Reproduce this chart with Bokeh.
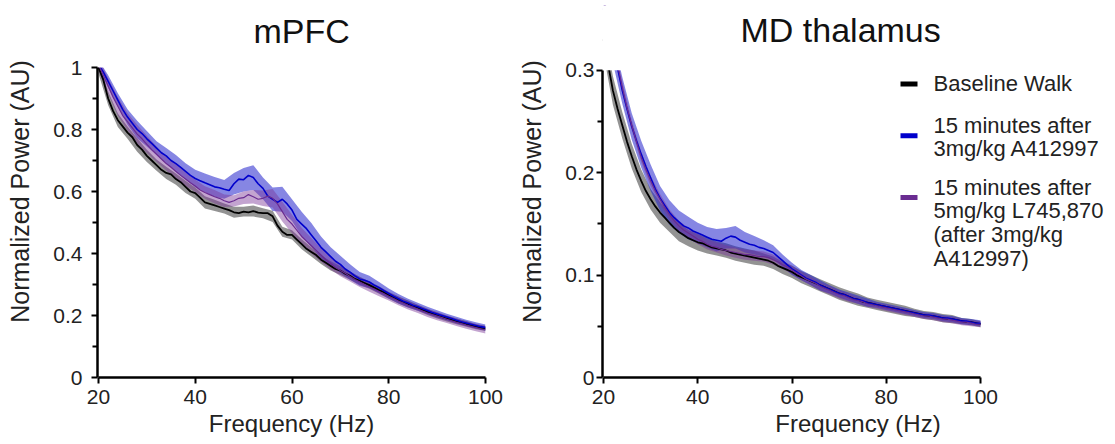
from bokeh.plotting import figure
from bokeh.layouts import row
from bokeh.models import FixedTicker, CustomJSTickFormatter, Label
from bokeh.embed import file_html
from bokeh.resources import INLINE

# ---------------- data ----------------
freq = list(range(20, 101))          # 1 Hz steps
freq2 = list(range(20, 101, 2))      # 2 Hz steps for error bands

series_names = ["Baseline Walk", "15 minutes after 3mg/kg A412997",
                "15 minutes after 5mg/kg L745,870 (after 3mg/kg A412997)"]

mpfc_base = [1.00, 0.96, 0.90, 0.86, 0.83, 0.81, 0.79, 0.775, 0.75, 0.735,
             0.715, 0.70, 0.685, 0.67, 0.66, 0.655, 0.64, 0.63, 0.615, 0.60,
             0.595, 0.58, 0.565, 0.56, 0.555, 0.55, 0.545, 0.54, 0.533, 0.53,
             0.535, 0.533, 0.537, 0.532, 0.53, 0.53, 0.52, 0.49, 0.47, 0.46,
             0.46, 0.445, 0.43, 0.415, 0.405, 0.395, 0.38, 0.37, 0.36, 0.35,
             0.345, 0.335, 0.328, 0.318, 0.312, 0.305, 0.298, 0.29, 0.282, 0.275,
             0.265, 0.258, 0.25, 0.243, 0.237, 0.23, 0.225, 0.218, 0.212, 0.207,
             0.20, 0.195, 0.19, 0.186, 0.181, 0.177, 0.173, 0.168, 0.164, 0.161,
             0.158]
mpfc_a412997 = [1.01, 0.985, 0.955, 0.925, 0.895, 0.865, 0.84, 0.82, 0.80, 0.787,
                0.77, 0.755, 0.74, 0.725, 0.715, 0.70, 0.69, 0.678, 0.665, 0.652,
                0.642, 0.635, 0.628, 0.622, 0.615, 0.612, 0.607, 0.603, 0.625, 0.64,
                0.638, 0.652, 0.645, 0.625, 0.61, 0.585, 0.575, 0.565, 0.575, 0.56,
                0.54, 0.51, 0.495, 0.48, 0.46, 0.44, 0.42, 0.405, 0.39, 0.375,
                0.365, 0.35, 0.34, 0.328, 0.318, 0.314, 0.308, 0.298, 0.29, 0.28,
                0.271, 0.262, 0.254, 0.246, 0.24, 0.233, 0.228, 0.222, 0.216, 0.21,
                0.205, 0.20, 0.195, 0.19, 0.185, 0.18, 0.176, 0.172, 0.168, 0.164,
                0.161]
mpfc_l745870 = [1.01, 0.975, 0.94, 0.905, 0.875, 0.845, 0.825, 0.805, 0.785, 0.77,
                0.752, 0.735, 0.72, 0.705, 0.69, 0.678, 0.665, 0.652, 0.64, 0.628,
                0.618, 0.605, 0.597, 0.59, 0.583, 0.578, 0.57, 0.565, 0.57, 0.578,
                0.58, 0.59, 0.583, 0.575, 0.578, 0.585, 0.578, 0.56, 0.535, 0.51,
                0.495, 0.475, 0.455, 0.44, 0.425, 0.41, 0.395, 0.38, 0.368, 0.355,
                0.345, 0.336, 0.326, 0.316, 0.308, 0.30, 0.292, 0.285, 0.277, 0.27,
                0.262, 0.255, 0.247, 0.24, 0.233, 0.227, 0.221, 0.214, 0.208, 0.203,
                0.198, 0.193, 0.188, 0.183, 0.178, 0.174, 0.169, 0.165, 0.161, 0.157,
                0.154]

mpfc_base_sem = [0.02, 0.022, 0.022, 0.02, 0.022, 0.02, 0.018, 0.02, 0.018, 0.02,
                 0.018, 0.02, 0.018, 0.016, 0.018, 0.016, 0.018, 0.016, 0.018, 0.016,
                 0.015, 0.016, 0.015, 0.014, 0.015, 0.014, 0.013, 0.013, 0.012, 0.012,
                 0.011, 0.011, 0.011, 0.01, 0.01, 0.01, 0.009, 0.009, 0.009, 0.008,
                 0.008]
mpfc_a412997_sem = [0.015, 0.02, 0.022, 0.025, 0.028, 0.025, 0.022, 0.025, 0.028, 0.026,
                    0.028, 0.03, 0.032, 0.03, 0.035, 0.038, 0.04, 0.035, 0.038, 0.04,
                    0.035, 0.04, 0.038, 0.035, 0.03, 0.028, 0.025, 0.022, 0.02, 0.018,
                    0.016, 0.015, 0.014, 0.013, 0.012, 0.012, 0.011, 0.011, 0.01, 0.01,
                    0.01]
mpfc_l745870_sem = [0.02, 0.025, 0.03, 0.028, 0.03, 0.028, 0.025, 0.022, 0.025, 0.022,
                    0.02, 0.02, 0.022, 0.02, 0.018, 0.02, 0.022, 0.025, 0.03, 0.032,
                    0.03, 0.028, 0.025, 0.022, 0.02, 0.018, 0.016, 0.016, 0.015, 0.015,
                    0.014, 0.014, 0.014, 0.013, 0.013, 0.013, 0.012, 0.012, 0.012, 0.012,
                    0.012]

md_base = [0.33, 0.305, 0.28, 0.262, 0.246, 0.23, 0.216, 0.203, 0.192, 0.182,
           0.174, 0.167, 0.161, 0.156, 0.151, 0.146, 0.142, 0.139, 0.136, 0.134,
           0.132, 0.131, 0.129, 0.127, 0.126, 0.125, 0.124, 0.122, 0.121, 0.12,
           0.119, 0.118, 0.117, 0.116, 0.115, 0.114, 0.112, 0.109, 0.107, 0.105,
           0.103, 0.10, 0.098, 0.096, 0.094, 0.092, 0.09, 0.088, 0.086, 0.084,
           0.082, 0.081, 0.079, 0.077, 0.076, 0.074, 0.073, 0.072, 0.071, 0.07,
           0.069, 0.068, 0.067, 0.066, 0.065, 0.064, 0.063, 0.062, 0.061, 0.06,
           0.06, 0.059, 0.058, 0.057, 0.057, 0.056, 0.055, 0.054, 0.054, 0.053,
           0.052]
md_a412997 = [0.36, 0.34, 0.32, 0.302, 0.28, 0.262, 0.245, 0.231, 0.218, 0.206,
              0.195, 0.184, 0.175, 0.168, 0.161, 0.156, 0.152, 0.148, 0.146, 0.143,
              0.141, 0.139, 0.137, 0.135, 0.134, 0.133, 0.136, 0.138, 0.137, 0.134,
              0.132, 0.13, 0.129, 0.127, 0.126, 0.124, 0.122, 0.118, 0.114, 0.11,
              0.106, 0.103, 0.10, 0.097, 0.095, 0.093, 0.09, 0.088, 0.086, 0.084,
              0.082, 0.081, 0.079, 0.077, 0.076, 0.075, 0.073, 0.072, 0.071, 0.07,
              0.069, 0.068, 0.067, 0.066, 0.065, 0.064, 0.063, 0.062, 0.061, 0.061,
              0.06, 0.059, 0.058, 0.058, 0.057, 0.056, 0.055, 0.055, 0.054, 0.053,
              0.053]
md_l745870 = [0.37, 0.345, 0.325, 0.305, 0.283, 0.263, 0.246, 0.23, 0.215, 0.203,
              0.192, 0.182, 0.174, 0.166, 0.159, 0.153, 0.148, 0.144, 0.141, 0.138,
              0.135, 0.133, 0.13, 0.128, 0.127, 0.125, 0.124, 0.123, 0.122, 0.121,
              0.12, 0.12, 0.119, 0.118, 0.118, 0.117, 0.115, 0.113, 0.11, 0.108,
              0.105, 0.102, 0.099, 0.096, 0.094, 0.092, 0.089, 0.087, 0.085, 0.083,
              0.081, 0.08, 0.078, 0.076, 0.075, 0.074, 0.072, 0.071, 0.07, 0.069,
              0.068, 0.067, 0.066, 0.065, 0.064, 0.063, 0.062, 0.061, 0.06, 0.06,
              0.059, 0.058, 0.057, 0.057, 0.056, 0.055, 0.054, 0.054, 0.053, 0.052,
              0.052]

md_base_sem = [0.014, 0.014, 0.013, 0.012, 0.011, 0.01, 0.01, 0.009, 0.009, 0.008,
               0.008, 0.008, 0.007, 0.007, 0.007, 0.007, 0.007, 0.006, 0.006, 0.006,
               0.006, 0.006, 0.006, 0.006, 0.006, 0.006, 0.006, 0.006, 0.005, 0.005,
               0.005, 0.005, 0.005, 0.004, 0.004, 0.004, 0.004, 0.004, 0.003, 0.003,
               0.003]
md_a412997_sem = [0.013, 0.013, 0.013, 0.013, 0.013, 0.013, 0.012, 0.012, 0.011, 0.011,
                  0.01, 0.01, 0.011, 0.01, 0.011, 0.01, 0.009, 0.008, 0.007, 0.006,
                  0.006, 0.005, 0.005, 0.005, 0.004, 0.004, 0.004, 0.004, 0.004, 0.003,
                  0.003, 0.003, 0.003, 0.003, 0.003, 0.003, 0.003, 0.003, 0.003, 0.003,
                  0.003]
md_l745870_sem = [0.006, 0.006, 0.006, 0.005, 0.005, 0.005, 0.005, 0.005, 0.005, 0.005,
                  0.005, 0.005, 0.005, 0.005, 0.005, 0.005, 0.005, 0.005, 0.005, 0.004,
                  0.004, 0.004, 0.004, 0.004, 0.004, 0.004, 0.004, 0.003, 0.003, 0.003,
                  0.003, 0.003, 0.003, 0.003, 0.003, 0.003, 0.003, 0.003, 0.003, 0.003,
                  0.003]

x_ticks = [20, 40, 60, 80, 100]
mpfc_yticks = [0, 0.2, 0.4, 0.6, 0.8, 1.0]
mpfc_yminor = [0.1, 0.3, 0.5, 0.7, 0.9]
md_yticks = [0, 0.1, 0.2, 0.3]
md_yminor = [0.05, 0.15, 0.25]

titles = ["mPFC", "MD thalamus"]
legend_lines = [["Baseline Walk"],
                ["15 minutes after", "3mg/kg A412997"],
                ["15 minutes after", "5mg/kg L745,870", "(after 3mg/kg", "A412997)"]]

# ---------------- style ----------------
FONT = "Liberation Sans"
LINE_COLORS = ["#000000", "#0000cc", "#6a2c91"]
BAND_COLORS = ["#3a3a3a", "#2222cc", "#7a3596"]
BAND_ALPHA = [0.55, 0.55, 0.45]
TOP_PAD = 5   # px between canvas top and frame top; titles are drawn inside the frame
LEFT_PAD = 1  # px of frame left of 20 Hz

fmt = CustomJSTickFormatter(code="return tick.toFixed(2).replace(/0+$/, '').replace(/\\.$/, '');")


class Geom:
    def __init__(self, right_px, x0_px, px_per_hz, axis_top_px, axis_bottom_px, ymax):
        self.x0_px = x0_px
        self.px_per_hz = px_per_hz
        self.bottom_px = axis_bottom_px
        self.px_per_unit = (axis_bottom_px - axis_top_px) / ymax
        self.ymax = ymax
        self.xmin = 20 - LEFT_PAD / px_per_hz
        self.xmax = 20 + (right_px - x0_px) / px_per_hz
        self.ytop = (axis_bottom_px - TOP_PAD) / self.px_per_unit

    def x(self, px):
        return 20 + (px - self.x0_px) / self.px_per_hz

    def y(self, py):
        return (self.bottom_px - py) / self.px_per_unit


def make_panel(g, title, title_px, yticks, yminor, means, sems, width, height,
               bl, br, bb, ylab_standoff):
    p = figure(width=width, height=height, x_range=(g.xmin, g.xmax), y_range=(0, g.ytop),
               output_backend="svg", toolbar_location=None,
               min_border_left=bl, min_border_right=br,
               min_border_top=TOP_PAD, min_border_bottom=bb)
    p.outline_line_color = None
    p.xgrid.visible = False
    p.ygrid.visible = False
    p.background_fill_color = "white"
    p.border_fill_color = "white"

    # bands
    for m, s, c, a in zip(means, sems, BAND_COLORS, BAND_ALPHA):
        mm = m[::2]
        lo = [v - e for v, e in zip(mm, s)]
        hi = [v + e for v, e in zip(mm, s)]
        p.varea(x=freq2, y1=lo, y2=hi, fill_color=c, fill_alpha=a)
    # lines
    widths = [1.8, 1.6, 1.2]
    for m, c, w in zip(means, LINE_COLORS, widths):
        p.line(freq, m, line_color=c, line_width=w)
    # clip everything above the axis top (as the original axes do)
    p.quad(left=g.xmin - 5, right=g.xmax + 5, bottom=g.ymax, top=g.ytop + 1,
           fill_color="white", line_color=None)

    # title (inside the extended frame)
    p.add_layout(Label(x=g.x(title_px[0]), y=g.y(title_px[1]), text=title,
                       text_font=FONT, text_font_size="34px", text_color="#111111",
                       text_baseline="middle", text_align="left"))

    for ax in (p.xaxis[0], p.yaxis[0]):
        ax.axis_line_width = 2.5
        ax.axis_line_color = "black"
        ax.major_tick_line_width = 2
        ax.major_tick_line_color = "black"
        ax.major_tick_in = 0
        ax.major_tick_out = 6
        ax.minor_tick_in = 0
        ax.minor_tick_out = 5
        ax.minor_tick_line_width = 2
        ax.minor_tick_line_color = "black"
        ax.major_label_text_font = FONT
        ax.major_label_text_font_size = "21px"
        ax.major_label_text_color = "#222222"
        ax.axis_label_text_font = FONT
        ax.axis_label_text_font_style = "normal"
        ax.axis_label_text_color = "#222222"
    p.xaxis.ticker = FixedTicker(ticks=x_ticks)
    p.xaxis.bounds = (20, 100)
    p.xaxis.minor_tick_line_color = None
    p.xaxis.major_label_standoff = 6
    p.xaxis.axis_label_standoff = 3
    p.xaxis.axis_label_text_font_size = "24px"
    p.xaxis.axis_label = "Frequency (Hz)"
    p.yaxis.ticker = FixedTicker(ticks=yticks, minor_ticks=yminor)
    p.yaxis.bounds = (0, g.ymax)
    p.yaxis.formatter = fmt
    p.yaxis.major_label_standoff = ylab_standoff
    p.yaxis.axis_label_standoff = 16
    p.yaxis.axis_label_text_font_size = "25px"
    p.yaxis.axis_label = "Normalized Power (AU)"
    return p


# left panel: axes 98..485 px (20..100 Hz), 67..377 px (1..0)
g1 = Geom(485, 98, 387 / 80.0, 67, 377, 1.0)
p1 = make_panel(g1, titles[0], (253, 30), mpfc_yticks, mpfc_yminor,
                [mpfc_base, mpfc_a412997, mpfc_l745870],
                [mpfc_base_sem, mpfc_a412997_sem, mpfc_l745870_sem],
                width=515, height=444, bl=98 - LEFT_PAD, br=30, bb=67, ylab_standoff=9)

# right panel: axes 603..980 px (20..100 Hz), 70..379 px (0.3..0);
# frame extended to 1113 px so the legend fits inside it
g2 = Geom(1113, 603, 377 / 80.0, 70, 379, 0.3)
p2 = make_panel(g2, titles[1], (740, 30), md_yticks, md_yminor,
                [md_base, md_a412997, md_l745870],
                [md_base_sem, md_a412997_sem, md_l745870_sem],
                width=88 + 510, height=444, bl=88 - LEFT_PAD, br=0, bb=65, ylab_standoff=2)

marker_y = [84, 136, 198]
text_y = [[83], [126, 149], [188, 211, 235, 259]]
for c, my, lines, ys in zip(LINE_COLORS, marker_y, legend_lines, text_y):
    p2.line([g2.x(900), g2.x(917)], [g2.y(my), g2.y(my)], line_color=c, line_width=5)
    for t, yy in zip(lines, ys):
        p2.add_layout(Label(x=g2.x(933), y=g2.y(yy), text=t, text_font=FONT,
                            text_font_size="22px", text_color="#222222",
                            text_baseline="middle", text_align="left"))

layout = row(p1, p2)
open("out.html", "w").write(file_html(layout, INLINE))
